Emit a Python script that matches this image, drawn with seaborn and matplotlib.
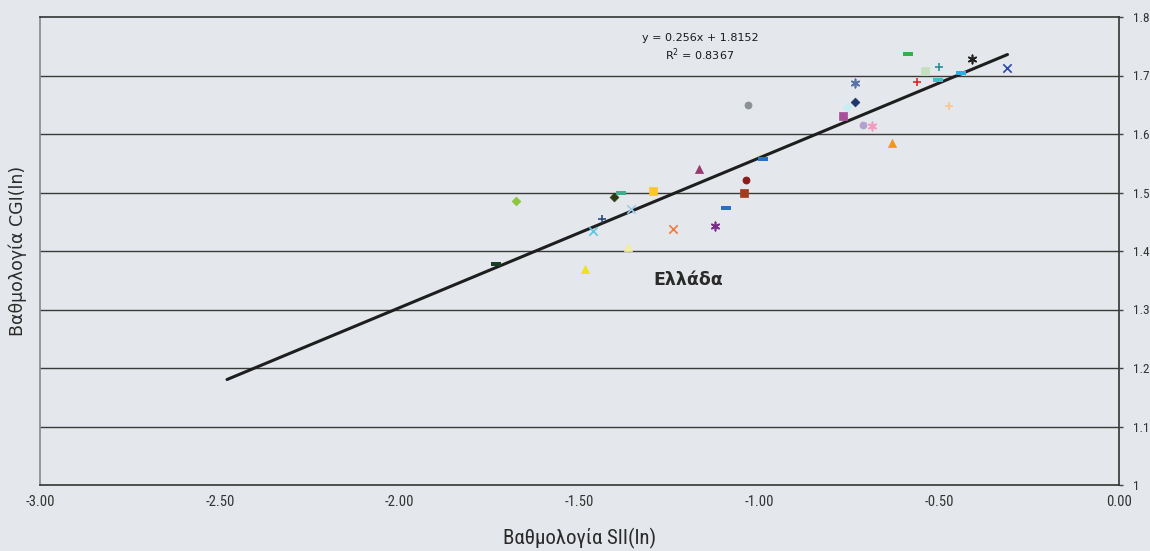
import matplotlib
matplotlib.use("Agg")
import matplotlib.pyplot as plt
from matplotlib import font_manager
import seaborn as sns
import numpy as np
import pandas as pd

# ---- data ----
sii_ln = [-1.732, -1.677, -1.484, -1.462, -1.438, -1.403, -1.385, -1.358, -1.364, -1.295,
          -1.241, -1.169, -1.122, -1.093, -1.042, -1.036, -0.991, -1.032, -0.588, -0.538,
          -0.501, -0.408, -0.311, -0.734, -0.562, -0.502, -0.438, -0.733, -0.757, -0.766,
          -0.711, -0.688, -0.630, -0.474]
cgi_ln = [1.378, 1.485, 1.369, 1.435, 1.455, 1.493, 1.499, 1.471, 1.406, 1.502,
          1.437, 1.540, 1.442, 1.474, 1.500, 1.522, 1.557, 1.650, 1.736, 1.708,
          1.715, 1.728, 1.713, 1.688, 1.689, 1.693, 1.704, 1.655, 1.646, 1.630,
          1.615, 1.614, 1.585, 1.648]
trend_slope = 0.256
trend_intercept = 1.8152
trend_r2 = 0.8367
trend_x_range = [-2.48, -0.31]
x_ticks = [-3.0, -2.5, -2.0, -1.5, -1.0, -0.5, 0.0]
x_tick_labels = ["-3.00", "-2.50", "-2.00", "-1.50", "-1.00", "-0.50", "0.00"]
y_ticks = [1.0, 1.1, 1.2, 1.3, 1.4, 1.5, 1.6, 1.7, 1.8]
y_tick_labels = ["1", "1.1", "1.2", "1.3", "1.4", "1.5", "1.6", "1.7", "1.8"]
x_label = "Βαθμολογία SII(ln)"
y_label = "Βαθμολογία CGI(ln)"
country_label = "Ελλάδα"

# ---- styles ----
dash = [(-1, -0.4), (1, -0.4), (1, 0.4), (-1, 0.4), (-1, -0.4)]
aster = (6, 2, 0)
markers = [dash, "D", "^", "x", "+", "D", dash, "x", "^", "s",
           "x", "^", aster, dash, "s", "o", dash, "o", dash, "s",
           "+", aster, "x", aster, "+", dash, dash, "D", "D", "s",
           "o", aster, "^", "+"]
colors = ["#163f24", "#8cc63f", "#eee21c", "#5cc8e2", "#2b4a80", "#2f3a12", "#3cb08a", "#9ccbe8",
          "#f3ee9c", "#fdc52c", "#f47a3c", "#953a6e", "#7b2b8a", "#2a70c0", "#a33c1e", "#8b1a1a",
          "#2a70c0", "#8c9196", "#33b04a", "#c5e0be", "#2a8f95", "#222222", "#2a48a8", "#5a72a8",
          "#e8202a", "#3cc0c8", "#2ab0e8", "#1f3570", "#c8eef5", "#a8509a", "#b4a0d0", "#f49ac0",
          "#f7941d", "#fcc58c"]

bg = "#e4e7eb"
sns.set_theme(style="white")
plt.rcParams["font.family"] = ["DejaVu Sans"]

available = {f.name for f in font_manager.fontManager.ttflist}
narrow = "DejaVu Sans"
for cand in ["Liberation Sans Narrow", "DejaVu Sans Condensed", "Roboto Condensed", "Open Sans Condensed"]:
    if cand in available:
        narrow = cand
        break

fig = plt.figure(figsize=(11.5, 5.51), dpi=100, facecolor=bg)
ax = fig.add_axes([40 / 1150, 66 / 551, 1079 / 1150, 468 / 551])
ax.set_facecolor(bg)

# gridlines
for yv in y_ticks[1:-1]:
    ax.axhline(yv, color="#3a3a3a", lw=1.0, zorder=1)

# trend line from the equation
tx = np.array(trend_x_range)
trend_df = pd.DataFrame({"x": tx, "y": trend_slope * tx + trend_intercept})
sns.lineplot(data=trend_df, x="x", y="y", color="#1e1e1e", lw=2.2, ax=ax, zorder=3)

# points
filled_sizes = {"D": 20, "^": 34, "s": 34, "o": 26}
for xv, yv, m, c in zip(sii_ln, cgi_ln, markers, colors):
    if isinstance(m, list):
        sns.scatterplot(x=[xv], y=[yv], marker=m, s=45, color=c, edgecolor=c, linewidth=0, ax=ax, zorder=4)
    elif m in filled_sizes:
        sns.scatterplot(x=[xv], y=[yv], marker=m, s=filled_sizes[m], color=c, edgecolor=c, linewidth=0.5, ax=ax, zorder=4)
    else:
        sns.scatterplot(x=[xv], y=[yv], marker=m, s=36, color=c, linewidth=1.2, ax=ax, zorder=4)

ax.set_xlim(-3.0, 0.0)
ax.set_ylim(1.0, 1.8)

ax.set_xticks(x_ticks)
ax.set_xticklabels(x_tick_labels, fontsize=10.5, color="#333333", family=narrow)
ax.yaxis.tick_right()
ax.set_yticks(y_ticks)
ax.set_yticklabels(y_tick_labels, fontsize=9.5, color="#333333", family=narrow)
ax.tick_params(axis="x", direction="out", length=4, width=1, color="#444444", pad=3)
ax.tick_params(axis="y", direction="out", length=3, width=1, color="#444444", pad=7)

ax.set_xlabel(x_label, fontsize=15, color="#2a2a2a", labelpad=14, family=narrow)
ax.text(-0.0205, 0.5, y_label, transform=ax.transAxes, rotation=90, ha="center", va="center",
        fontsize=12.5, color="#2a2a2a")
ax.set_ylabel("")

for side in ["top", "bottom", "right"]:
    ax.spines[side].set_color("#333333")
    ax.spines[side].set_linewidth(1.2)
ax.spines["left"].set_color("#888888")
ax.spines["left"].set_linewidth(1.2)

ax.text(-1.165, 1.764, f"y = {trend_slope:g}x + {trend_intercept:g}", ha="center", va="center",
        fontsize=8, color="#1a1a1a")
ax.text(-1.165, 1.736, f"R$^{{2}}$ = {trend_r2:g}", ha="center", va="center",
        fontsize=8, color="#1a1a1a")
ax.text(-1.198, 1.350, country_label, ha="center", va="center", fontsize=12.5,
        fontweight="bold", color="#2a2a2a")

fig.savefig("out.png", dpi=100, facecolor=bg)
